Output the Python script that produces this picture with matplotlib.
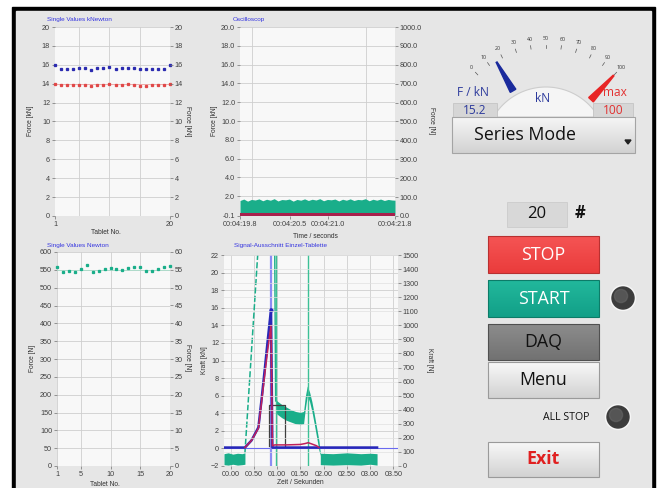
import numpy as np
import matplotlib.pyplot as plt
import matplotlib.colors as mcolors
from matplotlib import patches

plt.rcParams['font.family'] = ['Liberation Sans', 'DejaVu Sans']

W, H = 657, 488

tablet_no = [1, 2, 3, 4, 5, 6, 7, 8, 9, 10, 11, 12, 13, 14, 15, 16, 17, 18, 19, 20]
kn_blue = [15.95, 15.6, 15.55, 15.55, 15.65, 15.65, 15.5, 15.65, 15.65, 15.8,
           15.55, 15.65, 15.7, 15.7, 15.55, 15.55, 15.55, 15.55, 15.6, 15.95]
kn_red = [14.0, 13.85, 13.85, 13.85, 13.9, 13.9, 13.8, 13.9, 13.9, 13.95,
          13.85, 13.9, 13.95, 13.9, 13.8, 13.8, 13.85, 13.85, 13.9, 14.0]
kn_red_limit = 14.0
newton_vals = [558, 545, 547, 545, 553, 563, 545, 547, 552, 555,
               553, 550, 555, 557, 557, 548, 548, 553, 557, 562]
newton_limit = 550

osc_time = [19.84, 19.89, 19.94, 19.99, 20.04, 20.09, 20.14, 20.19, 20.24, 20.29,
            20.34, 20.39, 20.44, 20.49, 20.54, 20.59, 20.64, 20.69, 20.74, 20.79,
            20.84, 20.89, 20.94, 20.99, 21.04, 21.09, 21.14, 21.19, 21.24, 21.29,
            21.34, 21.39, 21.44, 21.49, 21.54, 21.59, 21.64, 21.69, 21.74, 21.79,
            21.84, 21.88]
osc_level = [1.55, 1.70, 1.48, 1.66, 1.60, 1.72, 1.52, 1.68, 1.58, 1.74,
             1.50, 1.65, 1.62, 1.70, 1.48, 1.66, 1.58, 1.72, 1.55, 1.68,
             1.60, 1.74, 1.52, 1.66, 1.62, 1.70, 1.50, 1.68, 1.58, 1.72,
             1.55, 1.66, 1.62, 1.74, 1.52, 1.68, 1.58, 1.70, 1.55, 1.66,
             1.60, 1.58]
osc_red_level = 0.1
osc_xticks = [19.84, 20.5, 21.0, 21.88]
osc_xlabels = ['00:04:19.8', '00:04:20.5', '00:04:21.0', '00:04:21.8']

blue_time = [-0.14, 0.31, 0.45, 0.60, 0.67, 0.74, 0.80, 0.87, 0.90, 3.15]
sig_blue = [0.1, 0.1, 0.9, 2.4, 5.7, 9.2, 12.3, 15.8, 0.1, 0.1]
red_time = [0.31, 0.45, 0.60, 0.67, 0.74, 0.80, 0.87, 0.90, 0.95,
            1.20, 1.50, 1.60, 1.67, 1.75, 1.85, 1.90]
sig_red = [0.1, 0.9, 2.3, 5.4, 8.6, 11.2, 14.0, 0.3, 0.4,
           0.4, 0.45, 0.55, 0.65, 0.5, 0.3, 0.1]
green_t1 = [-0.14, -0.05, 0.05, 0.15, 0.25, 0.31]
green_hi1 = [-0.6, -0.5, -0.65, -0.55, -0.6, -0.5]
green_lo1 = [-1.85, -1.9, -1.8, -1.9, -1.85, -1.8]
green_rise_t = [0.31, 0.59]
green_rise_v = [-0.5, 22.5]
green_fall_t = [0.95, 0.97]
green_fall_v = [22.5, 5.4]
green_t2 = [0.97, 1.0, 1.1, 1.2, 1.3, 1.4, 1.5, 1.57, 1.61, 1.65, 1.7, 1.75, 1.8, 1.85, 1.9, 1.93]
green_hi2 = [5.7, 5.4, 5.0, 4.7, 4.4, 4.2, 4.1, 4.2, 6.0, 7.1, 6.4, 5.3, 3.9, 2.4, 0.9, -0.5]
green_lo2 = [4.2, 3.9, 3.5, 3.2, 3.0, 2.8, 2.7, 2.8, 4.6, 6.0, 5.3, 4.2, 2.8, 1.3, -0.2, -0.8]
green_t3 = [1.93, 2.2, 2.5, 2.8, 3.0, 3.15]
green_hi3 = [-0.55, -0.6, -0.5, -0.6, -0.55, -0.6]
green_lo3 = [-1.85, -1.9, -1.85, -1.9, -1.8, -1.9]
box_t = [0.83, 0.83, 1.18, 1.18]
box_v = [0.3, 4.9, 4.9, 0.3]
cursor_blue = 0.87
cursor_green = [0.97, 1.66]

gauge_ticks = [0, 10, 20, 30, 40, 50, 60, 70, 80, 90, 100]
gauge_value = 15.2
gauge_max = 100
count_value = 20

PANEL = '#e6e6e6'
PLOT_BG = '#f8f8f8'
GREEN = '#1aae8a'


fig = plt.figure(figsize=(W / 100, H / 100), dpi=100)
fig.patch.set_facecolor('white')
bg = fig.add_axes([0, 0, 1, 1])
bg.axis('off')

# frame
bg.add_patch(patches.Rectangle((12, 7), 643, 500, color='black', zorder=0))
bg.add_patch(patches.Rectangle((16, 11), 635, 500, color=PANEL, zorder=0))


def px_axes(x0, y0, x1, y1):
    return fig.add_axes([x0 / W, 1 - y1 / H, (x1 - x0) / W, (y1 - y0) / H])


def style(ax, bgcol=True):
    if bgcol:
        ax.set_facecolor(PLOT_BG)
    for s in ax.spines.values():
        s.set_visible(False)
    ax.tick_params(which='major', direction='out', length=2.5, width=0.5, color='#707070',
                   pad=1, labelsize=5.2, labelcolor='#404040')
    ax.tick_params(which='minor', length=0)


def txt(x, y, s, **kw):
    kw.setdefault('fontsize', 4.8)
    kw.setdefault('color', '#303030')
    kw.setdefault('ha', 'center')
    kw.setdefault('va', 'center')
    bg.text(x, y, s, **kw)


GRID = dict(color='#cfcfcf', lw=0.6)

# ---- plot 1: Single Values kNewton ----
ax1 = px_axes(55, 27, 170, 216)
style(ax1)
ax1.axhline(kn_red_limit, color='#f2a8a8', lw=0.6)
ax1.plot(tablet_no, kn_blue, ls='none', marker='s', ms=1.4, color='#2b2bb0', clip_on=False)
ax1.plot(tablet_no, kn_red, ls='none', marker='s', ms=1.4, color='#e04848', clip_on=False)
ax1.set_xlim(1, 20)
ax1.set_ylim(0, 20)
ax1.set_yticks(range(0, 21, 2))
ax1.set_xticks([1, 20])
ax1.set_xticks([5, 10, 15], minor=True)
ax1.grid(which='minor', axis='x', **GRID)
ax1.grid(which='major', axis='y', **GRID)
ax1.set_axisbelow(True)
ax1r = ax1.twinx()
style(ax1r, False)
ax1r.set_ylim(0, 20)
ax1r.set_yticks(range(0, 21, 2))
txt(47, 19, 'Single Values kNewton', ha='left', color='#3535e0', fontsize=4.6)
txt(30, 121, 'Force [kN]', rotation=90)
txt(188, 121, 'Force [kN]', rotation=270)
txt(106, 232, 'Tablet No.')

# ---- plot 2: Oscilloscop ----
ax2 = px_axes(240, 27, 395, 216)
style(ax2)
ax2.fill_between(osc_time, 0, osc_level, color=GREEN, lw=0)
ax2.axhline(osc_red_level, color='#a8204c', lw=2.2)
ax2.set_xlim(osc_time[0], osc_time[-1])
ax2.set_ylim(-0.1, 20)
ax2.set_yticks([-0.1] + list(range(2, 21, 2)))
ax2.set_yticklabels(['%.1f' % v for v in [-0.1] + list(range(2, 21, 2))])
ax2.set_xticks(osc_xticks)
ax2.set_xticklabels(osc_xlabels)
ax2.set_xticks([20.0, 20.5, 21.0, 21.5], minor=True)
ax2.grid(which='minor', axis='x', **GRID)
ax2.grid(which='major', axis='y', **GRID)
ax2.set_axisbelow(True)
ax2r = ax2.twinx()
style(ax2r, False)
ax2r.set_ylim(0, 1000)
ax2r.set_yticks(range(0, 1001, 100))
ax2r.set_yticklabels(['%.1f' % v for v in range(0, 1001, 100)])
txt(233, 19, 'Oscilloscop', ha='left', color='#3535e0', fontsize=4.6)
txt(215, 121, 'Force [kN]', rotation=90)
txt(432, 121, 'Force [N]', rotation=270)
txt(315, 237, 'Time / seconds')

# ---- plot 3: Single Values Newton ----
ax3 = px_axes(57, 252, 170, 466)
style(ax3)
ax3.axhline(newton_limit, color='#a8dcc8', lw=0.6)
ax3.plot(tablet_no, newton_vals, ls='none', marker='s', ms=1.4, color=GREEN, clip_on=False)
ax3.set_xlim(1, 20)
ax3.set_ylim(0, 600)
ax3.set_yticks(range(0, 601, 50))
ax3.set_xticks([1, 5, 10, 15, 20])
ax3.grid(**GRID)
ax3.set_axisbelow(True)
ax3r = ax3.twinx()
style(ax3r, False)
ax3r.set_ylim(0, 60)
ax3r.set_yticks(range(0, 61, 5))
txt(47, 245, 'Single Values Newton', ha='left', color='#3535e0', fontsize=4.6)
txt(32, 358, 'Force [N]', rotation=90)
txt(188, 358, 'Force [N]', rotation=270)
txt(105, 485, 'Tablet No.')

# ---- plot 4: Signal-Ausschnitt ----
ax4 = px_axes(224, 255, 398, 466)
style(ax4)
ax4.fill_between(green_t1, green_lo1, green_hi1, color=GREEN, lw=0)
ax4.plot(green_rise_t, green_rise_v, color=GREEN, lw=1.1, ls=(0, (4, 1.5)))
ax4.plot(green_fall_t, green_fall_v, color=GREEN, lw=1.0)
ax4.fill_between(green_t2, green_lo2, green_hi2, color=GREEN, lw=0)
ax4.fill_between(green_t3, green_lo3, green_hi3, color=GREEN, lw=0)
ax4.axhline(0.0, color='#6a6af0', lw=0.8)
for cx in cursor_green:
    ax4.axvline(cx, color='#3cc096', lw=1.0)
ax4.axvline(cursor_blue, color='#8c8cf4', lw=1.6)
ax4.plot(box_t, box_v, color='#404040', lw=0.9)
ax4.plot(blue_time, sig_blue, color='#2828b8', lw=1.8)
ax4.plot(red_time, sig_red, color='#c0205a', lw=1.1)
ax4.plot([blue_time[7]], [sig_blue[7]], marker='o', ms=2, color='#2828c0')
ax4.set_xlim(-0.14, 3.6)
ax4.set_ylim(-2, 22)
ax4.set_yticks(range(-2, 23, 2))
ax4.set_xticks([0, 0.5, 1.0, 1.5, 2.0, 2.5, 3.0, 3.5])
ax4.set_xticklabels(['%05.2f' % v for v in [0, 0.5, 1.0, 1.5, 2.0, 2.5, 3.0, 3.5]])
ax4.grid(**GRID)
ax4.set_axisbelow(True)
ax4r = ax4.twinx()
style(ax4r, False)
ax4r.set_ylim(0, 1500)
ax4r.set_yticks(range(0, 1501, 100))
ax4r.grid(axis='y', color='#e0e0e0', lw=0.5)
ax4r.set_axisbelow(True)
txt(234, 245, 'Signal-Ausschnitt Einzel-Tablette', ha='left', color='#3535e0', fontsize=4.6)
txt(205, 360, 'Kraft [kN]', rotation=90)
txt(430, 360, 'Kraft [N]', rotation=270)
txt(300, 483, 'Zeit / Sekunden')

# ---- gauge ----
g_cx, g_cy = 546, 148


def g_ang(v):
    return np.radians(133 - 0.86 * v)


th = np.radians(np.linspace(30.5, 149.5, 60))
dome = np.column_stack([g_cx + 61 * np.cos(th), g_cy - 61 * np.sin(th)])
bg.add_patch(patches.Polygon(dome, closed=True, fc='#f5f5f5', ec='#cdcdcd', lw=0.8, zorder=1))

for v in gauge_ticks:
    a = g_ang(v)
    bg.text(g_cx + 110 * np.cos(a), g_cy - 110 * np.sin(a), str(v), fontsize=3.8,
            ha='center', va='center', color='#333333', family='Open Sans')
    bg.plot([g_cx + 100 * np.cos(a), g_cx + 103.5 * np.cos(a)],
            [g_cy - 100 * np.sin(a), g_cy - 103.5 * np.sin(a)], color='#555555', lw=0.5)


def needle(v, color):
    a = g_ang(v)
    u = np.array([np.cos(a), -np.sin(a)])
    p = np.array([np.sin(a), np.cos(a)])
    c = np.array([g_cx, g_cy])
    base, tip = c + 66 * u, c + 99 * u
    pts = [base + 3.2 * p, tip + 0.5 * p, tip - 0.5 * p, base - 3.2 * p]
    bg.add_patch(patches.Polygon(pts, closed=True, color=color, zorder=3))


needle(gauge_value, '#1a2a9c')
needle(gauge_max, '#e82424')

OS = 'Open Sans'
txt(473, 92, 'F / kN', fontsize=8.6, color='#2c3a9c', family=OS)
txt(615, 92, 'max', fontsize=8.6, color='#e23030', family=OS)
txt(543, 98, 'kN', fontsize=8.6, color='#2c3a9c', family=OS)
bg.add_patch(patches.Rectangle((453, 103), 44, 14, fc='#d6d6d6', ec='#c4c4c4', lw=0.6, zorder=2))
bg.add_patch(patches.Rectangle((593, 103), 40, 14, fc='#d6d6d6', ec='#c4c4c4', lw=0.6, zorder=2))
txt(475, 110.5, '%.1f' % gauge_value, fontsize=8.6, color='#2c3a9c', family=OS, zorder=4)
txt(613, 110.5, '%d' % gauge_max, fontsize=8.6, color='#e23030', family=OS, zorder=4)


def grad_box(x0, y0, x1, y1, top, bot, edge, lw=0.8):
    c0, c1 = np.array(mcolors.to_rgb(top)), np.array(mcolors.to_rgb(bot))
    g = np.linspace(0, 1, 32)[:, None]
    img = (c0 * (1 - g) + c1 * g)[:, None, :]
    bg.imshow(img, extent=(x0, x1, y1, y0), aspect='auto', origin='upper',
              interpolation='bilinear', zorder=2)
    bg.add_patch(patches.Rectangle((x0, y0), x1 - x0, y1 - y0, fill=False, ec=edge, lw=lw, zorder=3))


grad_box(452, 117, 635, 153, '#f6f6f6', '#d2d2d2', '#a4a4a4')
txt(525, 135, 'Series Mode', fontsize=12.8, color='#111111', family=OS, zorder=4)
bg.add_patch(patches.Polygon([(625, 140), (631, 140), (628, 144)], color='#222222', zorder=4))

# counter
bg.add_patch(patches.Rectangle((507, 202), 60, 25, fc='#d8d8d8', ec='#cccccc', lw=0.6, zorder=2))
txt(537, 214.5, str(count_value), fontsize=12, color='#111111', family=OS, zorder=4)
txt(580, 213, '#', fontsize=12, color='#111111', family=OS, weight='bold', zorder=4)

# buttons
buttons = [
    ('STOP', 236, 273, '#f55454', '#ea3c3c', '#b83030', 'white', 'normal'),
    ('START', 280, 317, '#22b89c', '#12a088', '#0c7c68', 'white', 'normal'),
    ('DAQ', 324, 360, '#8c8c8c', '#727272', '#505050', '#111111', 'normal'),
    ('Menu', 362, 398, '#f8f8f8', '#d2d2d2', '#9a9a9a', '#111111', 'normal'),
    ('Exit', 442, 477, '#f8f8f8', '#d2d2d2', '#9a9a9a', '#e02020', 'bold'),
]
for label, y0, y1, ctop, cbot, edge, tcol, wt in buttons:
    grad_box(488, y0, 599, y1, ctop, cbot, edge)
    txt(543.5, (y0 + y1) / 2, label, fontsize=12.8, color=tcol, family=OS, weight=wt, zorder=4)


def led(x, y, r):
    bg.add_patch(patches.Circle((x, y), r + 1.5, color='#f6f6f6', zorder=2))
    bg.add_patch(patches.Circle((x, y), r, color='#3c3c3c', zorder=3))
    bg.add_patch(patches.Circle((x - 2, y - 2), r * 0.6, color='#666666', alpha=0.6, zorder=4))


led(623, 298, 11)
led(618, 417, 11)
txt(589, 417, 'ALL STOP', fontsize=7.6, ha='right', color='#111111', family=OS)

bg.set_xlim(0, W)
bg.set_ylim(H, 0)

fig.savefig('out.png', dpi=100)
